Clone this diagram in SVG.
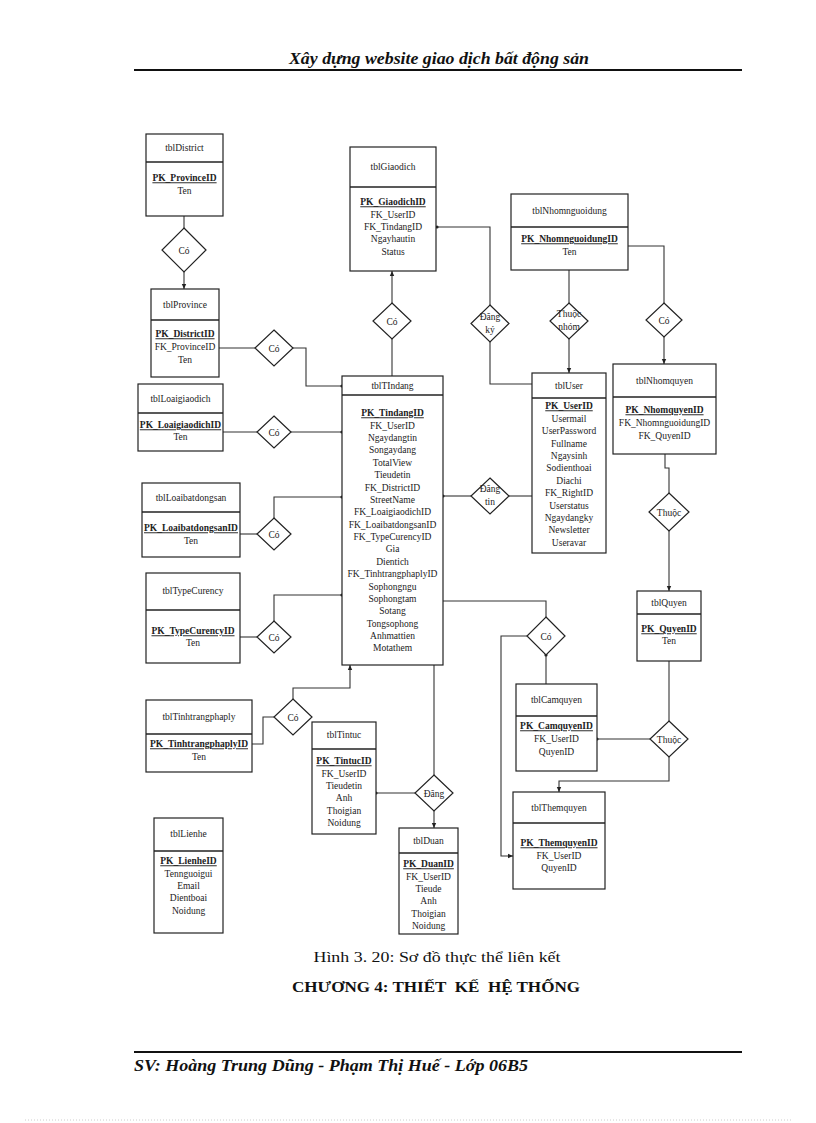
<svg xmlns="http://www.w3.org/2000/svg" width="816" height="1123" viewBox="0 0 816 1123">
<style>
.bg{fill:#fff}
.box{fill:#fff;stroke:#222;stroke-width:1.2}
.dv{stroke:#222;stroke-width:1.6}
.t{font-family:"Liberation Serif","Times New Roman",serif;font-size:9.5px;fill:#222;text-anchor:middle}
.pk{font-weight:bold;text-decoration:underline}
.dia{fill:#fff;stroke:#222;stroke-width:1.2}
.c{fill:none;stroke:#333;stroke-width:1.1}
.hd{font-family:"Liberation Serif","Times New Roman",serif;font-weight:bold;font-style:italic;font-size:16px;fill:#111}
.cap{font-family:"Liberation Serif","Times New Roman",serif;font-size:15px;fill:#111;text-anchor:middle}
.ch{font-family:"Liberation Serif","Times New Roman",serif;font-size:15px;font-weight:bold;fill:#111;white-space:pre}
</style>
<defs>
<marker id="ar" markerWidth="6" markerHeight="6" refX="5" refY="3" orient="auto" markerUnits="userSpaceOnUse"><path d="M0,0.8 L5,3 L0,5.2 Z" fill="#222"/></marker>
<marker id="dt" markerWidth="5" markerHeight="5" refX="2.5" refY="2.5" orient="auto" markerUnits="userSpaceOnUse"><circle cx="2.5" cy="2.5" r="1.6" fill="#222"/></marker>
</defs>
<rect class="bg" x="0" y="0" width="816" height="1123"/>

<!-- page header / footer -->
<g id="header">
<text class="hd" x="439" y="64" text-anchor="middle" textLength="300" lengthAdjust="spacingAndGlyphs">Xây dựng website giao dịch bất động sản</text>
<line x1="134" y1="70" x2="742" y2="70" stroke="#111" stroke-width="2"/>
</g>
<g id="footer">
<line x1="134" y1="1052" x2="742" y2="1052" stroke="#111" stroke-width="2"/>
<text class="hd" x="134" y="1071" textLength="394" lengthAdjust="spacingAndGlyphs">SV: Hoàng Trung Dũng - Phạm Thị Huế - Lớp 06B5</text>
<line x1="25" y1="1120" x2="792" y2="1120" stroke="#ccc" stroke-width="1" stroke-dasharray="1,2"/>
</g>
<g id="caption">
<text class="cap" x="437" y="962" textLength="247" lengthAdjust="spacingAndGlyphs">Hình 3. 20: Sơ đồ thực thể liên kết</text>
<text class="ch" x="292" y="992" textLength="288" lengthAdjust="spacingAndGlyphs">CHƯƠNG 4: THIẾT  KẾ  HỆ THỐNG</text>
</g>

<!-- connectors -->
<g id="connectors">
<path class="c" d="M184,216 V228"/>
<path class="c" d="M184,272 V289" marker-end="url(#ar)"/>
<path class="c" d="M219,348 H255"/>
<path class="c" d="M293,348 H306 V386 H342" marker-end="url(#dt)"/>
<path class="c" d="M392,303 V271" marker-end="url(#ar)"/>
<path class="c" d="M392,339 V376"/>
<path class="c" d="M490,305 V227 H437" marker-end="url(#dt)"/>
<path class="c" d="M490,342 V384 H532"/>
<path class="c" d="M569,270 V303"/>
<path class="c" d="M569,339 V373" marker-end="url(#ar)"/>
<path class="c" d="M628,246 H664 V303"/>
<path class="c" d="M664,337 V364" marker-end="url(#ar)"/>
<path class="c" d="M223,432 H257"/>
<path class="c" d="M291,432 H342" marker-end="url(#dt)"/>
<path class="c" d="M471,496 H443" marker-end="url(#dt)"/>
<path class="c" d="M509,496 H532"/>
<path class="c" d="M240,534 H257"/>
<path class="c" d="M274,518 V497 H342" marker-end="url(#dt)"/>
<path class="c" d="M665,454 V468 H669 V493"/>
<path class="c" d="M669,531 V591" marker-end="url(#ar)"/>
<path class="c" d="M240,637 H257"/>
<path class="c" d="M274,621 V595 H342" marker-end="url(#dt)"/>
<path class="c" d="M443,601 H546 V617"/>
<path class="c" d="M546,684 V655" marker-end="url(#dt)"/>
<path class="c" d="M527,636 H501 V856 H513" marker-end="url(#ar)"/>
<path class="c" d="M252,744 H263 V717 H274"/>
<path class="c" d="M293,699 V688 H350 V665" marker-end="url(#ar)"/>
<path class="c" d="M669,661 V721"/>
<path class="c" d="M650,739 H597" marker-end="url(#dt)"/>
<path class="c" d="M669,757 V781 H559 V792" marker-end="url(#ar)"/>
<path class="c" d="M434,665 V775"/>
<path class="c" d="M415,793 H376" marker-end="url(#dt)"/>
<path class="c" d="M434,811 V828" marker-end="url(#ar)"/>
</g>

<!-- relationship diamonds -->
<g id="rel-co-district"><polygon class="dia" points="184,228 206,250 184,272 162,250"/><text class="t" x="184" y="253.5">Có</text></g>
<g id="rel-co-province"><polygon class="dia" points="274,330 293,348 274,366 255,348"/><text class="t" x="274" y="351.5">Có</text></g>
<g id="rel-co-giaodich"><polygon class="dia" points="392,303 411,321 392,339 373,321"/><text class="t" x="392" y="324.5">Có</text></g>
<g id="rel-dangky"><polygon class="dia" points="490,305 509,323.5 490,342 471,323.5"/><text class="t" x="490" y="320">Đăng</text><text class="t" x="490" y="333">ký</text></g>
<g id="rel-thuocnhom"><polygon class="dia" points="569,303 588,321 569,339 550,321"/><text class="t" x="569" y="317">Thuộc</text><text class="t" x="569" y="330">nhóm</text></g>
<g id="rel-co-nhomquyen"><polygon class="dia" points="664,303 682,320 664,337 646,320"/><text class="t" x="664" y="323.5">Có</text></g>
<g id="rel-co-loaigiaodich"><polygon class="dia" points="274,416 291,432 274,448 257,432"/><text class="t" x="274" y="435.5">Có</text></g>
<g id="rel-dangtin"><polygon class="dia" points="490,478 509,496 490,514 471,496"/><text class="t" x="490" y="492">Đăng</text><text class="t" x="490" y="505">tin</text></g>
<g id="rel-co-loaibds"><polygon class="dia" points="274,518 291,534 274,550 257,534"/><text class="t" x="274" y="537.5">Có</text></g>
<g id="rel-thuoc-quyen"><polygon class="dia" points="669,493 689,512 669,531 649,512"/><text class="t" x="669" y="515.5">Thuộc</text></g>
<g id="rel-co-typecurency"><polygon class="dia" points="274,621 291,637 274,653 257,637"/><text class="t" x="274" y="640.5">Có</text></g>
<g id="rel-co-camquyen"><polygon class="dia" points="546,617 565,636 546,655 527,636"/><text class="t" x="546" y="639.5">Có</text></g>
<g id="rel-co-tinhtrang"><polygon class="dia" points="293,699 312,717 293,735 274,717"/><text class="t" x="293" y="720.5">Có</text></g>
<g id="rel-thuoc-cam"><polygon class="dia" points="669,721 688,739 669,757 650,739"/><text class="t" x="669" y="742.5">Thuộc</text></g>
<g id="rel-dang"><polygon class="dia" points="434,775 453,793 434,811 415,793"/><text class="t" x="434" y="796.5">Đăng</text></g>

<!-- tables -->
<g id="tblDistrict">
<rect class="box" x="146" y="134" width="77" height="82"/><line class="dv" x1="146" y1="162" x2="223" y2="162"/>
<text class="t" x="184.5" y="151.3">tblDistrict</text>
<text class="t pk" x="184.5" y="181.3">PK_ProvinceID</text>
<text class="t" x="184.5" y="194.3">Ten</text>
</g>
<g id="tblProvince">
<rect class="box" x="151" y="289" width="68" height="88"/><line class="dv" x1="151" y1="320" x2="219" y2="320"/>
<text class="t" x="185" y="308.3">tblProvince</text>
<text class="t pk" x="185" y="337.3">PK_DistrictID</text>
<text class="t" x="185" y="350.3">FK_ProvinceID</text>
<text class="t" x="185" y="363.3">Ten</text>
</g>
<g id="tblGiaodich">
<rect class="box" x="350" y="147" width="86" height="124"/><line class="dv" x1="350" y1="187" x2="436" y2="187"/>
<text class="t" x="393" y="170.3">tblGiaodich</text>
<text class="t pk" x="393" y="205.3">PK_GiaodichID</text>
<text class="t" x="393" y="217.6">FK_UserID</text>
<text class="t" x="393" y="229.9">FK_TindangID</text>
<text class="t" x="393" y="242.2">Ngayhautin</text>
<text class="t" x="393" y="254.5">Status</text>
</g>
<g id="tblNhomnguoidung">
<rect class="box" x="511" y="194" width="117" height="76"/><line class="dv" x1="511" y1="227" x2="628" y2="227"/>
<text class="t" x="569.5" y="214.3">tblNhomnguoidung</text>
<text class="t pk" x="569.5" y="242.3">PK_NhomnguoidungID</text>
<text class="t" x="569.5" y="255.3">Ten</text>
</g>
<g id="tblLoaigiaodich">
<rect class="box" x="138" y="384" width="85" height="67"/><line class="dv" x1="138" y1="413" x2="223" y2="413"/>
<text class="t" x="180.5" y="402.3">tblLoaigiaodich</text>
<text class="t pk" x="180.5" y="428.3">PK_LoaigiaodichID</text>
<text class="t" x="180.5" y="440.3">Ten</text>
</g>
<g id="tblTindang">
<rect class="box" x="342" y="376" width="101" height="289"/><line class="dv" x1="342" y1="395" x2="443" y2="395"/>
<text class="t" x="392.5" y="389.3">tblTIndang</text>
<text class="t pk" x="392.5" y="416.3">PK_TindangID</text>
<text class="t" x="392.5" y="428.7">FK_UserID</text>
<text class="t" x="392.5" y="441.0">Ngaydangtin</text>
<text class="t" x="392.5" y="453.4">Songaydang</text>
<text class="t" x="392.5" y="465.8">TotalView</text>
<text class="t" x="392.5" y="478.2">Tieudetin</text>
<text class="t" x="392.5" y="490.5">FK_DistrictID</text>
<text class="t" x="392.5" y="502.9">StreetName</text>
<text class="t" x="392.5" y="515.3">FK_LoaigiaodichID</text>
<text class="t" x="392.5" y="527.6">FK_LoaibatdongsanID</text>
<text class="t" x="392.5" y="540.0">FK_TypeCurencyID</text>
<text class="t" x="392.5" y="552.4">Gia</text>
<text class="t" x="392.5" y="564.7">Dientich</text>
<text class="t" x="392.5" y="577.1">FK_TinhtrangphaplyID</text>
<text class="t" x="392.5" y="589.5">Sophongngu</text>
<text class="t" x="392.5" y="601.9">Sophongtam</text>
<text class="t" x="392.5" y="614.2">Sotang</text>
<text class="t" x="392.5" y="626.6">Tongsophong</text>
<text class="t" x="392.5" y="639.0">Anhmattien</text>
<text class="t" x="392.5" y="651.3">Motathem</text>
</g>
<g id="tblUser">
<rect class="box" x="532" y="373" width="74" height="180"/><line class="dv" x1="532" y1="398" x2="606" y2="398"/>
<text class="t" x="569" y="389.3">tblUser</text>
<text class="t pk" x="569" y="409.3">PK_UserID</text>
<text class="t" x="569" y="421.7">Usermail</text>
<text class="t" x="569" y="434.1">UserPassword</text>
<text class="t" x="569" y="446.5">Fullname</text>
<text class="t" x="569" y="458.9">Ngaysinh</text>
<text class="t" x="569" y="471.3">Sodienthoai</text>
<text class="t" x="569" y="483.7">Diachi</text>
<text class="t" x="569" y="496.1">FK_RightID</text>
<text class="t" x="569" y="508.5">Userstatus</text>
<text class="t" x="569" y="520.9">Ngaydangky</text>
<text class="t" x="569" y="533.3">Newsletter</text>
<text class="t" x="569" y="545.7">Useravar</text>
</g>
<g id="tblNhomquyen">
<rect class="box" x="613" y="364" width="103" height="90"/><line class="dv" x1="613" y1="397" x2="716" y2="397"/>
<text class="t" x="664.5" y="384.3">tblNhomquyen</text>
<text class="t pk" x="664.5" y="413.3">PK_NhomquyenID</text>
<text class="t" x="664.5" y="426.3">FK_NhomnguoidungID</text>
<text class="t" x="664.5" y="439.3">FK_QuyenID</text>
</g>
<g id="tblLoaibatdongsan">
<rect class="box" x="142" y="483" width="98" height="74"/><line class="dv" x1="142" y1="512" x2="240" y2="512"/>
<text class="t" x="191" y="501.3">tblLoaibatdongsan</text>
<text class="t pk" x="191" y="531.3">PK_LoaibatdongsanID</text>
<text class="t" x="191" y="544.3">Ten</text>
</g>
<g id="tblTypeCurency">
<rect class="box" x="146" y="573" width="94" height="90"/><line class="dv" x1="146" y1="610" x2="240" y2="610"/>
<text class="t" x="193" y="594.3">tblTypeCurency</text>
<text class="t pk" x="193" y="634.3">PK_TypeCurencyID</text>
<text class="t" x="193" y="646.3">Ten</text>
</g>
<g id="tblQuyen">
<rect class="box" x="637" y="591" width="64" height="70"/><line class="dv" x1="637" y1="614" x2="701" y2="614"/>
<text class="t" x="669" y="606.3">tblQuyen</text>
<text class="t pk" x="669" y="632.3">PK_QuyenID</text>
<text class="t" x="669" y="644.3">Ten</text>
</g>
<g id="tblCamquyen">
<rect class="box" x="516" y="684" width="81" height="87"/><line class="dv" x1="516" y1="716" x2="597" y2="716"/>
<text class="t" x="556.5" y="703.3">tblCamquyen</text>
<text class="t pk" x="556.5" y="729.3">PK_CamquyenID</text>
<text class="t" x="556.5" y="742.3">FK_UserID</text>
<text class="t" x="556.5" y="755.3">QuyenID</text>
</g>
<g id="tblTinhtrangphaply">
<rect class="box" x="146" y="700" width="106" height="72"/><line class="dv" x1="146" y1="734" x2="252" y2="734"/>
<text class="t" x="199" y="720.3">tblTinhtrangphaply</text>
<text class="t pk" x="199" y="747.3">PK_TinhtrangphaplyID</text>
<text class="t" x="199" y="760.3">Ten</text>
</g>
<g id="tblTintuc">
<rect class="box" x="312" y="722" width="64" height="112"/><line class="dv" x1="312" y1="749" x2="376" y2="749"/>
<text class="t" x="344" y="738.3">tblTintuc</text>
<text class="t pk" x="344" y="764.3">PK_TintucID</text>
<text class="t" x="344" y="776.6">FK_UserID</text>
<text class="t" x="344" y="788.9">Tieudetin</text>
<text class="t" x="344" y="801.2">Anh</text>
<text class="t" x="344" y="813.5">Thoigian</text>
<text class="t" x="344" y="825.8">Noidung</text>
</g>
<g id="tblThemquyen">
<rect class="box" x="513" y="792" width="92" height="97"/><line class="dv" x1="513" y1="823" x2="605" y2="823"/>
<text class="t" x="559" y="811.3">tblThemquyen</text>
<text class="t pk" x="559" y="846.3">PK_ThemquyenID</text>
<text class="t" x="559" y="859.3">FK_UserID</text>
<text class="t" x="559" y="871.3">QuyenID</text>
</g>
<g id="tblLienhe">
<rect class="box" x="154" y="818" width="69" height="115"/><line class="dv" x1="154" y1="851" x2="223" y2="851"/>
<text class="t" x="188.5" y="837.3">tblLienhe</text>
<text class="t pk" x="188.5" y="864.3">PK_LienheID</text>
<text class="t" x="188.5" y="876.6">Tennguoigui</text>
<text class="t" x="188.5" y="888.9">Email</text>
<text class="t" x="188.5" y="901.2">Dientboai</text>
<text class="t" x="188.5" y="913.5">Noidung</text>
</g>
<g id="tblDuan">
<rect class="box" x="399" y="828" width="59" height="106"/><line class="dv" x1="399" y1="853" x2="458" y2="853"/>
<text class="t" x="428.5" y="844.3">tblDuan</text>
<text class="t pk" x="428.5" y="867.3">PK_DuanID</text>
<text class="t" x="428.5" y="879.6">FK_UserID</text>
<text class="t" x="428.5" y="891.9">Tieude</text>
<text class="t" x="428.5" y="904.2">Anh</text>
<text class="t" x="428.5" y="916.5">Thoigian</text>
<text class="t" x="428.5" y="928.8">Noidung</text>
</g>
</svg>
